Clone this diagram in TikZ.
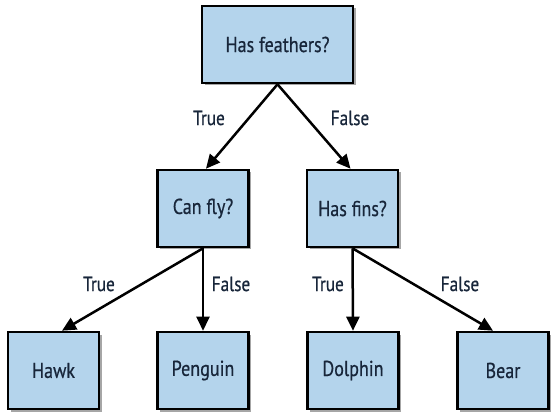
\documentclass[tikz,border=0pt]{standalone}
\usepackage{fontspec}
\setmainfont{PT Sans}[FakeStretch=0.84,FakeBold=0.6]
\usetikzlibrary{arrows.meta,shadows,calc}
\definecolor{boxblue}{HTML}{B4D4EC}
\definecolor{txtnavy}{HTML}{18263A}
\begin{document}
\begin{tikzpicture}[x=1pt,y=1pt,
  box/.style={draw=black,line width=2.6pt,fill=boxblue,text=txtnavy,
    minimum width=91pt,minimum height=77pt,inner sep=0pt,
    font=\fontsize{21.5}{25}\selectfont,
    drop shadow={shadow xshift=2.5pt,shadow yshift=-2.5pt,fill=black,opacity=0.35}},
  edge/.style={line width=2.5pt,-{Triangle[length=14pt,width=13pt]}},
  lbl/.style={text=txtnavy,font=\fontsize{20.5}{24}\selectfont,inner sep=0pt}]
\useasboundingbox (0,0) rectangle (556,415);
% nodes (y = 415 - image y)
\node[box,minimum width=151pt] (root) at (277.5,370.5) {Has feathers?};
\node[box] (canfly) at (203,206.5) {Can fly?};
\node[box] (fins) at (352.5,206.5) {Has fins?};
\node[box] (hawk) at (53.5,44.5) {Hawk};
\node[box] (penguin) at (203,44.5) {Penguin};
\node[box] (dolphin) at (353,44.5) {Dolphin};
\node[box] (bear) at (503,44.5) {Bear};
% connectors
\draw[edge] (root.south) -- ($(canfly.north)+(3,0)$);
\draw[edge] (root.south) -- ($(fins.north)+(-2,0)$);
\draw[edge] (canfly.south) -- ($(hawk.north)+(8.5,0)$);
\draw[edge] (canfly.south) -- (penguin.north);
\draw[edge] (fins.south) -- (dolphin.north);
\draw[edge] (fins.south) -- ($(bear.north)+(-10,0)$);
% labels
\node[lbl] (l1) at (209,297) {True};
\node[lbl] (l2) at (350,297) {False};
\node[lbl] (l3) at (99,131) {True};
\node[lbl] (l4) at (231,131) {False};
\node[lbl] (l5) at (328,131) {True};
\node[lbl] (l6) at (460,131) {False};
\end{tikzpicture}
\end{document}
